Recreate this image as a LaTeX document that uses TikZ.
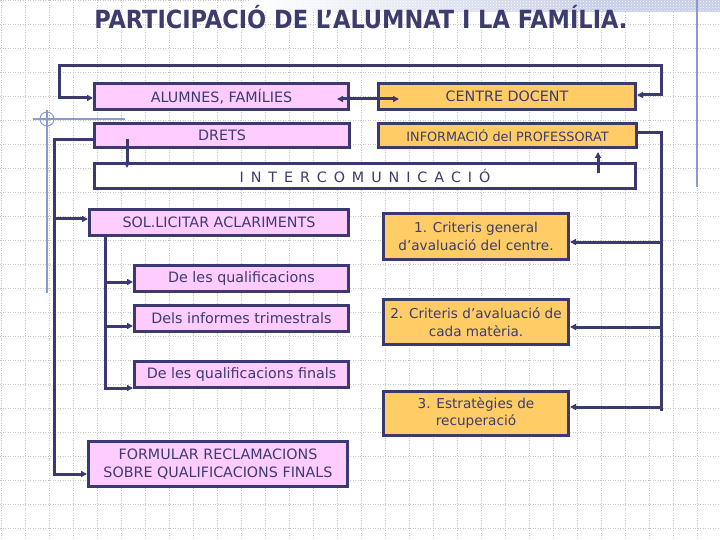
\documentclass[tikz,border=0pt]{standalone}
\usepackage{fontspec}
\setmainfont{DejaVu Sans}
\newfontfamily\titlefont{DejaVu Sans Condensed}
\usepackage{tikz}
\usetikzlibrary{arrows.meta, positioning, calc, patterns}
\definecolor{navyline}{RGB}{58, 58, 112}
\definecolor{navytext}{RGB}{60, 60, 110}
\definecolor{pinkfill}{RGB}{255, 204, 255}
\definecolor{orangefill}{RGB}{255, 204, 102}
\definecolor{paleblue}{RGB}{140, 155, 205}

\begin{document}
\begin{tikzpicture}[x=1pt, y=-1pt,
    box/.style={draw=navyline, line width=3pt, text=navytext, inner sep=0pt,
        font=\fontsize{14.3}{17.5}\selectfont, align=center},
    pinkbox/.style={box, fill=pinkfill},
    orangebox/.style={box, fill=orangefill},
    critbox/.style={orangebox, font=\fontsize{13.6}{17.5}\selectfont},
    conn/.style={draw=navyline, line width=3pt},
    tip/.style={-{Triangle[length=6pt, width=6pt]}},
    tips/.style={{Triangle[length=6pt, width=6pt]}-{Triangle[length=6pt, width=6pt]}},
    gridline/.style={gray!45, line width=0.5pt, dash pattern=on 1pt off 1.5pt}]
        \useasboundingbox (0,0) rectangle (720,540);
        \fill[white] (0,0) rectangle (720,540);

        % Background grid
        \foreach \gx in {1,25,...,721} \draw[gridline] (\gx,0) -- (\gx,540);
        \foreach \gy in {0,24,...,540} \draw[gridline] (0,\gy) -- (720,\gy);

        % Decorations of the slide
        \fill[left color=white, right color=paleblue!50] (250,0) rectangle (600,12);
        \fill[paleblue!50] (600,0) rectangle (720,12);
        \fill[pattern=crosshatch dots, pattern color=white] (250,0) rectangle (720,12);
        \draw[paleblue, line width=1.2pt] (697,0) -- (697,187);
        \draw[paleblue, line width=1.2pt] (33,119) -- (125,119);
        \draw[paleblue, line width=1.2pt] (47,110) -- (47,293);
        \draw[paleblue, line width=1pt] (47,119) circle (7);

        % Title
        \node[text=navytext, font=\titlefont\bfseries\fontsize{25}{28}\selectfont] (title) at (361,17)
            {PARTICIPACIÓ DE L’ALUMNAT I LA FAMÍLIA.};

        % Top row
        \node[pinkbox, minimum width=254, minimum height=26] (alum) at (221.5,96.5) {ALUMNES, FAMÍLIES};
        \node[orangebox, minimum width=257, minimum height=26] (centre) at (507,96.5) {CENTRE DOCENT};
        \node[pinkbox, minimum width=255, minimum height=24] (drets) at (222,135.5) {DRETS};
        \node[orangebox, font=\fontsize{12.8}{15}\selectfont, minimum width=258, minimum height=24] (info)
            at (507.5,135.5) {INFORMACIÓ del PROFESSORAT};
        \node[box, fill=white, minimum width=541, minimum height=25] (inter) at (365,176)
            {I\,\ N\,\ T\,\ E\,\ R\,\ C\,\ O\,\ M\,\ U\,\ N\,\ I\,\ C\,\ A\,\ C\,\ I\,\ Ó};

        % Left column (pupils and families)
        \node[pinkbox, minimum width=259, minimum height=26] (sol) at (219,222.5) {SOL.LICITAR ACLARIMENTS};
        \node[pinkbox, minimum width=214, minimum height=26] (qual) at (241.5,278.5) {De les qualificacions};
        \node[pinkbox, minimum width=214, minimum height=26] (trim) at (241.5,318.5) {Dels informes trimestrals};
        \node[pinkbox, minimum width=214, minimum height=26] (final) at (241.5,374.5) {De les qualificacions finals};
        \node[pinkbox, minimum width=259, minimum height=45] (formular) at (218,464)
            {FORMULAR RECLAMACIONS\\SOBRE QUALIFICACIONS FINALS};

        % Right column (school)
        \node[critbox, minimum width=185, minimum height=45] (crit1) at (476,236.5)
            {1. Criteris general\\d’avaluació del centre.};
        \node[critbox, minimum width=185, minimum height=45] (crit2) at (476,322)
            {2. Criteris d’avaluació de\\cada matèria.};
        \node[critbox, minimum width=185, minimum height=44] (estrat) at (476,413)
            {3. Estratègies de\\recuperació};

        % Helper points of the connectors
        \coordinate (topL) at (59,66);
        \coordinate (topR) at (661,66);
        \coordinate (colA) at (54,140);
        \coordinate (colB) at (105,237);
        \coordinate (colD) at (127,139);
        \coordinate (colI) at (598,173);
        \coordinate (endR) at (661,411);

        % Loop over the top row
        \draw[conn, tips] ([yshift=1.5pt]centre.east) -| (topR) -- (topL) |- ([yshift=-1.5pt]alum.west);
        \draw[conn, tips] ([xshift=-13pt, yshift=-2.5pt]alum.east) -- ([xshift=22pt, yshift=-2.5pt]centre.west);

        % Links through the middle bar
        \draw[conn, tip, shorten >=-6pt] (colD) -- (colD |- inter.north);
        \draw[conn, tip, shorten >=3pt] (colI) -- (colI |- info.south);

        % Rights of pupils and families
        \draw[conn, tip] ([yshift=-4.5pt]drets.west) -- (colA) |- ([yshift=-10pt]formular.west);
        \draw[conn, tip] ($(colA |- sol.west)+(0,-3.5)$) -- ($(sol.west)+(0,-3.5)$);
        \draw[conn, tip] (colB) |- ([yshift=-13.5pt]final.west);
        \draw[conn, tip] ($(colB |- qual.west)+(0,3.5)$) -- ($(qual.west)+(0,3.5)$);
        \draw[conn, tip] ($(colB |- trim.west)+(0,7.5)$) -- ($(trim.west)+(0,7.5)$);

        % Information of the teachers
        \draw[conn] ([yshift=2.5pt]info.east) -| (endR);
        \draw[conn, tip] ($(endR |- crit1.east)+(0,5.5)$) -- ($(crit1.east)+(0,5.5)$);
        \draw[conn, tip] ($(endR |- crit2.east)+(0,5)$) -- ($(crit2.east)+(0,5)$);
        \draw[conn, tip] ($(endR |- estrat.east)+(0,-6)$) -- ($(estrat.east)+(0,-6)$);
\end{tikzpicture}
\end{document}
